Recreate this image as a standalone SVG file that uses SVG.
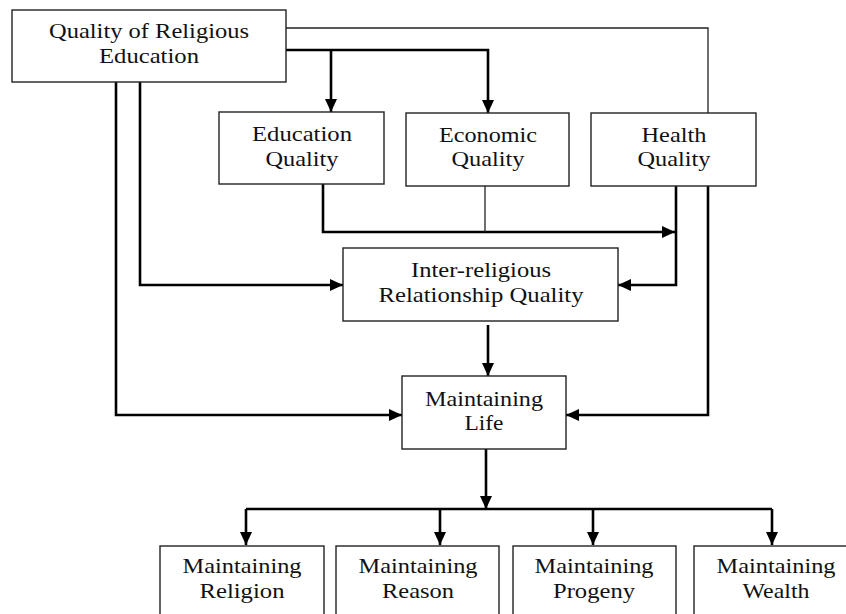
<svg xmlns="http://www.w3.org/2000/svg" width="846" height="614" viewBox="0 0 846 614">
<defs>
<marker id="ah" markerUnits="userSpaceOnUse" markerWidth="13" markerHeight="12" refX="13" refY="6" orient="auto">
<path d="M0,0 L13,6 L0,12 z" fill="#000"/>
</marker>
<style>
.box{fill:#fff;stroke:#222;stroke-width:1.4}
.t{font-family:"Liberation Serif","Times New Roman",serif;font-size:22px;fill:#111;text-anchor:middle}
.thick{fill:none;stroke:#000;stroke-width:2.6}
.thin{fill:none;stroke:#222;stroke-width:1.3}
</style>
</defs>
<rect width="846" height="614" fill="#fff"/>
<g id="connectors">
<path class="thin" d="M285,28 H708 V113"/>
<path class="thick" d="M285,50 H488 V113" marker-end="url(#ah)"/>
<path class="thick" d="M331,50 V112" marker-end="url(#ah)"/>
<path class="thick" d="M116,82 V415 H402" marker-end="url(#ah)"/>
<path class="thick" d="M140,82 V285 H343" marker-end="url(#ah)"/>
<path class="thick" d="M323,184 V232 H675" marker-end="url(#ah)"/>
<path class="thin" d="M485,186 V232"/>
<path class="thick" d="M676,186 V285 H618" marker-end="url(#ah)"/>
<path class="thick" d="M708,186 V415 H566" marker-end="url(#ah)"/>
<path class="thick" d="M488,325 V376" marker-end="url(#ah)"/>
<path class="thick" d="M486,449 V509" marker-end="url(#ah)"/>
<path class="thick" d="M246,509 H772"/>
<path class="thick" d="M246,509 V545" marker-end="url(#ah)"/>
<path class="thick" d="M440,509 V545" marker-end="url(#ah)"/>
<path class="thick" d="M593,509 V545" marker-end="url(#ah)"/>
<path class="thick" d="M772,509 V545" marker-end="url(#ah)"/>
</g>
<g id="quality-religious-education">
<rect class="box" x="12" y="10" width="274" height="72"/>
<text class="t" x="149" y="38" textLength="200" lengthAdjust="spacingAndGlyphs">Quality of Religious</text>
<text class="t" x="149" y="63" textLength="100" lengthAdjust="spacingAndGlyphs">Education</text>
</g>
<g id="education-quality">
<rect class="box" x="219" y="112" width="165" height="72"/>
<text class="t" x="302" y="141" textLength="100" lengthAdjust="spacingAndGlyphs">Education</text>
<text class="t" x="302" y="166" textLength="73" lengthAdjust="spacingAndGlyphs">Quality</text>
</g>
<g id="economic-quality">
<rect class="box" x="406" y="113" width="163" height="73"/>
<text class="t" x="488" y="142" textLength="98" lengthAdjust="spacingAndGlyphs">Economic</text>
<text class="t" x="488" y="166" textLength="73" lengthAdjust="spacingAndGlyphs">Quality</text>
</g>
<g id="health-quality">
<rect class="box" x="591" y="113" width="165" height="73"/>
<text class="t" x="674" y="142" textLength="65" lengthAdjust="spacingAndGlyphs">Health</text>
<text class="t" x="674" y="166" textLength="73" lengthAdjust="spacingAndGlyphs">Quality</text>
</g>
<g id="inter-religious">
<rect class="box" x="343" y="248" width="275" height="73"/>
<text class="t" x="481" y="277" textLength="140" lengthAdjust="spacingAndGlyphs">Inter-religious</text>
<text class="t" x="481" y="302" textLength="205" lengthAdjust="spacingAndGlyphs">Relationship Quality</text>
</g>
<g id="maintaining-life">
<rect class="box" x="402" y="376" width="164" height="73"/>
<text class="t" x="484" y="406" textLength="118" lengthAdjust="spacingAndGlyphs">Maintaining</text>
<text class="t" x="484" y="430" textLength="39" lengthAdjust="spacingAndGlyphs">Life</text>
</g>
<g id="maintaining-religion">
<rect class="box" x="160" y="546" width="164" height="90"/>
<text class="t" x="242" y="573" textLength="119" lengthAdjust="spacingAndGlyphs">Maintaining</text>
<text class="t" x="242" y="598" textLength="85" lengthAdjust="spacingAndGlyphs">Religion</text>
</g>
<g id="maintaining-reason">
<rect class="box" x="336" y="546" width="163" height="90"/>
<text class="t" x="418" y="573" textLength="119" lengthAdjust="spacingAndGlyphs">Maintaining</text>
<text class="t" x="418" y="598" textLength="72" lengthAdjust="spacingAndGlyphs">Reason</text>
</g>
<g id="maintaining-progeny">
<rect class="box" x="513" y="546" width="163" height="90"/>
<text class="t" x="594" y="573" textLength="119" lengthAdjust="spacingAndGlyphs">Maintaining</text>
<text class="t" x="594" y="598" textLength="82" lengthAdjust="spacingAndGlyphs">Progeny</text>
</g>
<g id="maintaining-wealth">
<rect class="box" x="694" y="546" width="160" height="90"/>
<text class="t" x="776" y="573" textLength="119" lengthAdjust="spacingAndGlyphs">Maintaining</text>
<text class="t" x="776" y="598" textLength="67" lengthAdjust="spacingAndGlyphs">Wealth</text>
</g>
</svg>
